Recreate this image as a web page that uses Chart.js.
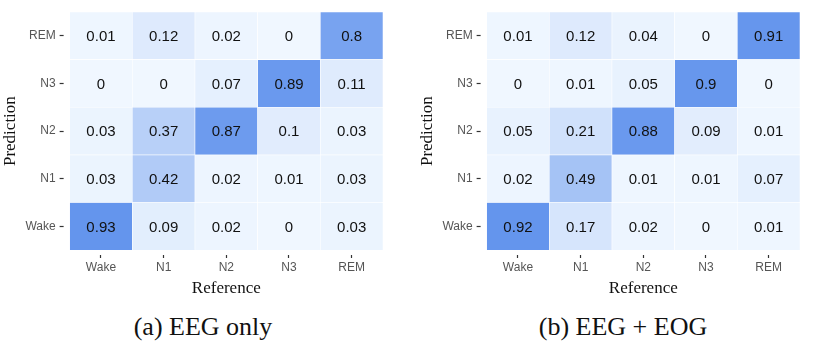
<!DOCTYPE html>
<html>
<head>
<meta charset="utf-8">
<script src="https://cdn.jsdelivr.net/npm/chart.js@4/dist/chart.umd.min.js"></script>
<style>
  body { margin: 0; background: #fff; width: 814px; height: 363px; position: relative; overflow: hidden; }
  .box { position: absolute; top: 0; width: 407px; height: 300px; }
  .cap { position: absolute; top: 312px; font-family: "Liberation Serif", "DejaVu Serif", serif; font-size: 26px; color: #111; white-space: nowrap; transform: translateX(-50%); }
</style>
</head>
<body>
<div class="box" style="left:0"><canvas id="chartA"></canvas></div>
<div class="box" style="left:407px"><canvas id="chartB"></canvas></div>
<div class="cap" style="left:203px">(a) EEG only</div>
<div class="cap" style="left:623px">(b) EEG + EOG</div>
<script>
// stages, bottom row first
const stages = ['Wake', 'N1', 'N2', 'N3', 'REM'];

// rows = prediction, columns = reference
const eegOnly = [
  [0.93, 0.09, 0.02, 0, 0.03],   // Wake
  [0.03, 0.42, 0.02, 0.01, 0.03],// N1
  [0.03, 0.37, 0.87, 0.1, 0.03], // N2
  [0, 0, 0.07, 0.89, 0.11],      // N3
  [0.01, 0.12, 0.02, 0, 0.8]     // REM
];
const eegEog = [
  [0.92, 0.17, 0.02, 0, 0.01],
  [0.02, 0.49, 0.01, 0.01, 0.07],
  [0.05, 0.21, 0.88, 0.09, 0.01],
  [0, 0.01, 0.05, 0.9, 0],
  [0.01, 0.12, 0.04, 0, 0.91]
];

const low = [240, 247, 255];
const high = [100, 149, 237];

function fill(v, max) {
  const t = v / max;
  const c = low.map((l, i) => Math.round(l + (high[i] - l) * t));
  return `rgb(${c[0]},${c[1]},${c[2]})`;
}

const cellText = {
  id: 'cellText',
  afterDatasetsDraw(chart) {
    const ctx = chart.ctx;
    ctx.save();
    ctx.font = '15px "Liberation Sans", Arial, sans-serif';
    ctx.fillStyle = '#111';
    ctx.textAlign = 'center';
    ctx.textBaseline = 'middle';
    chart.data.datasets.forEach((ds, i) => {
      chart.getDatasetMeta(i).data.forEach((bar, j) => {
        ctx.fillText(String(ds.values[j]), bar.x, (bar.y + bar.base) / 2 + 1);
      });
    });
    ctx.restore();
  }
};

function makeChart(id, matrix, leftPad, rightPad) {
  const max = Math.max(...matrix.flat());
  const datasets = matrix.map((row, r) => ({
    label: stages[r],
    data: row.map(() => [r, r + 1]),
    values: row,
    backgroundColor: row.map(v => fill(v, max)),
    borderColor: '#ffffff',
    borderWidth: 0.6,
    borderSkipped: false,
    barPercentage: 1,
    categoryPercentage: 1
  }));

  new Chart(document.getElementById(id), {
    type: 'bar',
    data: { labels: stages, datasets },
    options: {
      responsive: true,
      maintainAspectRatio: false,
      animation: false,
      layout: { padding: { left: leftPad, right: rightPad, top: 12, bottom: 1 } },
      plugins: { legend: { display: false }, tooltip: { enabled: false } },
      scales: {
        x: {
          stacked: true,
          // short tick a few px below the panel, like ggplot
          grid: { offset: false, drawOnChartArea: false, tickLength: 8, tickColor: '#333', tickWidth: 1.2,
                  tickBorderDash: [0, 5, 3, 100] },
          border: { display: false },
          ticks: { color: '#555', font: { size: 12, family: 'Liberation Sans, Arial, sans-serif' }, padding: 2 },
          title: { display: true, text: 'Reference', color: '#111', padding: { top: 2, bottom: 0 },
                   font: { size: 17, family: 'Liberation Serif, serif' } }
        },
        y: {
          min: 0, max: 5,
          afterBuildTicks(axis) { axis.ticks = stages.map((s, i) => ({ value: i + 0.5 })); },
          grid: { drawOnChartArea: false, tickLength: 10, tickColor: '#333', tickWidth: 1.2,
                  tickBorderDash: [4, 100] },
          border: { display: false },
          ticks: { color: '#555', font: { size: 12, family: 'Liberation Sans, Arial, sans-serif' }, padding: 4,
                   callback: v => stages[Math.floor(v)] },
          title: { display: true, text: 'Prediction', color: '#111', padding: { top: 0, bottom: 1 },
                   font: { size: 17, family: 'Liberation Serif, serif' } }
        }
      }
    },
    plugins: [cellText]
  });
}

makeChart('chartA', eegOnly, 0, 24);
makeChart('chartB', eegEog, 10, 14);
</script>
</body>
</html>
